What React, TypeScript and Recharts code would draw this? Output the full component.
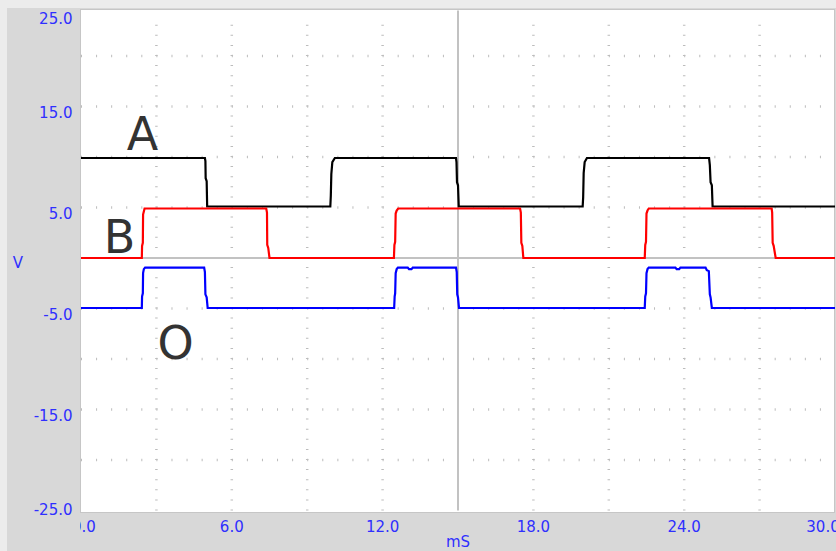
import * as React from "react";
import { LineChart, Line, XAxis, YAxis, ReferenceLine, ReferenceDot, Label } from "recharts";

// t in mS, v in volts
const seriesA: [number, number][] = [
  [0, 9.9], [4.93, 9.9], [4.95, 9.6], [4.96, 7.9], [5.0, 7.6], [5.02, 5.1],
  [9.92, 5.1], [9.94, 6.2], [9.96, 8.3], [10.0, 9.5], [10.1, 9.9],
  [14.92, 9.9], [14.94, 9.5], [14.96, 7.5], [15.0, 7.2], [15.03, 5.1],
  [19.96, 5.1], [19.98, 6.0], [20.0, 8.4], [20.04, 9.5], [20.13, 9.9],
  [24.99, 9.9], [25.02, 9.2], [25.05, 7.5], [25.1, 7.2], [25.13, 5.1],
  [30, 5.1],
];

const seriesB: [number, number][] = [
  [0, 0], [2.42, 0], [2.43, 1.2], [2.46, 1.5], [2.47, 4.3], [2.5, 4.6], [2.53, 4.9],
  [7.37, 4.9], [7.4, 4.5], [7.41, 1.3], [7.45, 1.0], [7.5, 0],
  [12.45, 0], [12.47, 1.3], [12.5, 1.6], [12.52, 4.4], [12.56, 4.7], [12.62, 4.9],
  [17.47, 4.9], [17.5, 4.5], [17.52, 1.5], [17.56, 1.2], [17.6, 0],
  [22.43, 0], [22.45, 1.3], [22.48, 1.6], [22.5, 4.4], [22.54, 4.7], [22.59, 4.9],
  [27.48, 4.9], [27.5, 4.5], [27.52, 1.5], [27.56, 1.2], [27.64, 0],
  [30, 0],
];

const seriesO: [number, number][] = [
  [0, -4.95], [2.42, -4.95], [2.43, -3.8], [2.46, -3.5], [2.47, -1.5], [2.5, -1.1], [2.55, -0.95],
  [4.9, -0.95], [4.93, -1.4], [4.95, -3.6], [5.0, -3.9], [5.04, -4.95],
  [12.46, -4.95], [12.48, -3.8], [12.5, -3.5], [12.52, -1.5], [12.56, -1.1], [12.61, -0.95],
  [13.0, -0.95], [13.05, -1.1], [13.15, -1.1], [13.2, -0.95],
  [14.92, -0.95], [14.95, -1.4], [14.97, -3.6], [15.0, -3.9], [15.04, -4.95],
  [22.43, -4.95], [22.45, -3.8], [22.48, -3.5], [22.5, -1.5], [22.54, -1.1], [22.59, -0.95],
  [23.65, -0.95], [23.7, -1.1], [23.8, -1.1], [23.85, -0.95],
  [24.85, -0.95], [24.9, -1.2], [24.98, -1.3], [25.02, -3.6], [25.05, -3.9], [25.1, -4.95],
  [30, -4.95],
];

const xTicks = [0, 6, 12, 18, 24, 30];
const yTicks = [-25, -15, -5, 5, 15, 25];
const xGrid = [3, 6, 9, 12, 18, 21, 24, 27];
const yGrid = [20, 15, 10, 5, -5, -10, -15, -20];

const traceLabels = [
  { text: "A", t: 2.45, v: 10.7 },
  { text: "B", t: 1.53, v: 0.47 },
  { text: "O", t: 3.76, v: -10.0 },
];

const toPts = (s: [number, number][]) => s.map(([t, v]) => ({ t, v }));

const BLUE = "#2f2fff";
const FONT = "'DejaVu Sans', sans-serif";
const PLOT_LEFT = 81;

function YTick({ y, payload }: any) {
  const ty = Math.min(Math.max(y + 11, 24), 515);
  return (
    <text x={72.5} y={ty} textAnchor="end" fill={BLUE} fontSize={15} fontFamily={FONT}>
      {Number(payload.value).toFixed(1)}
    </text>
  );
}

function XTick({ x, payload, index }: any) {
  const id = `xclip-${index}`;
  const tx = Math.min(Math.max(x, 84), 823);
  return (
    <g>
      <defs>
        <clipPath id={id}>
          <rect x={PLOT_LEFT - 1} y={0} width={836} height={551} />
        </clipPath>
      </defs>
      <g clipPath={`url(#${id})`}>
        <text x={tx} y={532} textAnchor="middle" fill={BLUE} fontSize={15} fontFamily={FONT}>
          {Number(payload.value).toFixed(1)}
        </text>
      </g>
    </g>
  );
}

export default function App() {
  return (
    <div style={{ position: "fixed", left: 0, top: 0, width: 836, height: 551, background: "#ececec", overflow: "hidden" }}>
      <div style={{ position: "absolute", left: 7, top: 8, width: 829, height: 543, background: "#d8d8d8" }} />
      <div
        style={{
          position: "absolute",
          left: 80,
          top: 9,
          width: 755,
          height: 504,
          boxSizing: "border-box",
          background: "#ffffff",
          border: "1px solid #c6c6c6",
        }}
      />
      <div style={{ position: "absolute", left: 0, top: 0 }}>
        <LineChart width={836} height={551} margin={{ top: 5.5, right: 1, bottom: 0, left: 0 }}>
          <XAxis
            type="number"
            dataKey="t"
            domain={[0, 30]}
            ticks={xTicks}
            allowDataOverflow
            height={40.5}
            tickLine={false}
            axisLine={false}
            tick={<XTick />}
          >
            <Label
              content={({ viewBox }: any) => (
                <text x={viewBox.x + viewBox.width / 2} y={547} textAnchor="middle" fill={BLUE} fontSize={15} fontFamily={FONT}>
                  mS
                </text>
              )}
            />
          </XAxis>
          <YAxis
            type="number"
            dataKey="v"
            domain={[-25, 25]}
            ticks={yTicks}
            allowDataOverflow
            width={PLOT_LEFT}
            tickLine={false}
            axisLine={false}
            tick={<YTick />}
          >
            <Label
              content={({ viewBox }: any) => (
                <text x={18} y={viewBox.y + viewBox.height / 2 + 10} textAnchor="middle" fill={BLUE} fontSize={15} fontFamily={FONT}>
                  V
                </text>
              )}
            />
          </YAxis>

          {yGrid.map((v) => (
            <ReferenceLine key={`hy${v}`} y={v} stroke="#bcbcbc" strokeWidth={2.5} strokeDasharray="1 14.08" />
          ))}
          {xGrid.map((t) => (
            <ReferenceLine
              key={`vx${t}`}
              segment={[{ x: t, y: -25 }, { x: t, y: 24 }]}
              stroke="#bcbcbc"
              strokeWidth={2.5}
              strokeDasharray="1 9.1"
            />
          ))}
          <ReferenceLine y={0} stroke="#c2c2c2" strokeWidth={2} />
          <ReferenceLine segment={[{ x: 15, y: -25 }, { x: 15, y: 24.5 }]} stroke="#c2c2c2" strokeWidth={2} />

          <Line data={toPts(seriesA)} dataKey="v" stroke="#000000" strokeWidth={2.2} dot={false} activeDot={false} isAnimationActive={false} />
          <Line data={toPts(seriesB)} dataKey="v" stroke="#ff0000" strokeWidth={2.2} dot={false} activeDot={false} isAnimationActive={false} />
          <Line data={toPts(seriesO)} dataKey="v" stroke="#0000ff" strokeWidth={2.2} dot={false} activeDot={false} isAnimationActive={false} />

          {traceLabels.map((l) => (
            <ReferenceDot
              key={l.text}
              x={l.t}
              y={l.v}
              r={0}
              shape={(p: any) => (
                <text x={p.cx} y={p.cy} textAnchor="middle" fill="#333333" fontSize={46} fontFamily={FONT}>
                  {l.text}
                </text>
              )}
            />
          ))}
        </LineChart>
      </div>
    </div>
  );
}
